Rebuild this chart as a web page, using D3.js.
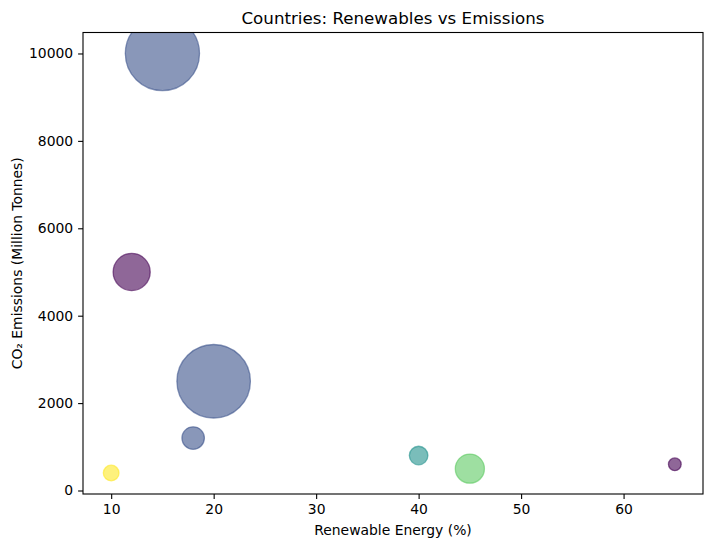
<!DOCTYPE html>
<html>
<head>
<meta charset="utf-8">
<script src="https://cdn.jsdelivr.net/npm/d3@7"></script>
<style>
  body{ margin:0; background:#fff; }
  svg text{ font-family:"DejaVu Sans", sans-serif; fill:#000; }
</style>
</head>
<body>
<svg id="chart" width="713" height="547"></svg>
<script>
// values
const countries = ['China','United States','India','Japan','Australia','Germany','Brazil','Canada']
const renewables = [15, 12, 20, 18, 10, 40, 45, 65]
const emissions = [10000, 5000, 2500, 1200, 400, 800, 500, 600]
const sizes = [2240, 560, 2200, 205, 100, 140, 345, 66]   // marker area, pt^2
const regionCode = [1, 0, 1, 1, 4, 2, 3, 0]
const xTicks = [10, 20, 30, 40, 50, 60]
const yTicks = [0, 2000, 4000, 6000, 8000, 10000]

const W = 713, H = 547
const m = { left: 83, right: 10, top: 32.5, bottom: 53 }
const svg = d3.select('#chart')

const pad = (ext, f=0.05) => { const d=(ext[1]-ext[0])*f; return [ext[0]-d, ext[1]+d] }
const x = d3.scaleLinear().domain(pad(d3.extent(renewables))).range([m.left, W - m.right])
const y = d3.scaleLinear().domain(pad(d3.extent(emissions))).range([H - m.bottom, m.top])
// matplotlib: radius(px) = sqrt(s/pi) * dpi/72
const r = d3.scaleSqrt().domain([0, 1]).range([0, Math.sqrt(1/Math.PI)*100/72])
const color = d3.scaleSequential(d3.interpolateViridis).domain([0, 4])

const data = countries.map((c,i) => ({ c, x: renewables[i], y: emissions[i], s: sizes[i], k: regionCode[i] }))

const gPts = svg.append('g').attr('clip-path', 'url(#clip)')
svg.append('clipPath').attr('id','clip').append('rect')
  .attr('x', m.left).attr('y', m.top).attr('width', W-m.left-m.right).attr('height', H-m.top-m.bottom)

gPts.selectAll('circle').data(data).enter().append('circle')
  .attr('cx', d => x(d.x)).attr('cy', d => y(d.y)).attr('r', d => r(d.s))
  .attr('fill', d => color(d.k)).attr('fill-opacity', 0.6)
  .attr('stroke', d => color(d.k)).attr('stroke-opacity', 0.6).attr('stroke-width', 1.3)

// axes
const xAxis = svg.append('g').attr('transform', `translate(0,${H - m.bottom})`)
  .call(d3.axisBottom(x).tickValues(xTicks).tickSize(4.9).tickPadding(4.9))
const yAxis = svg.append('g').attr('transform', `translate(${m.left},0)`)
  .call(d3.axisLeft(y).tickValues(yTicks).tickSize(4.9).tickPadding(4.9).tickFormat(d3.format('d')))
for(const g of [xAxis, yAxis]){
  g.select('.domain').remove()
  g.selectAll('.tick line').attr('stroke', '#000').attr('stroke-width', 1.1)
  g.selectAll('.tick text').attr('font-size', 13.9).attr('font-family', '"DejaVu Sans", sans-serif')
}
xAxis.selectAll('.tick text').attr('dy', '0.75em')

svg.append('rect')
  .attr('x', m.left).attr('y', m.top).attr('width', W-m.left-m.right).attr('height', H-m.top-m.bottom)
  .attr('fill', 'none').attr('stroke', '#000').attr('stroke-width', 1.1)

const cx = (m.left + W - m.right) / 2
svg.append('text').attr('x', cx).attr('y', 24).attr('text-anchor', 'middle')
  .attr('font-size', 16.7).text('Countries: Renewables vs Emissions')
svg.append('text').attr('x', cx).attr('y', 535).attr('text-anchor', 'middle')
  .attr('font-size', 13.9).text('Renewable Energy (%)')
svg.append('text').attr('transform', `translate(22,${(m.top + H - m.bottom)/2}) rotate(-90)`)
  .attr('text-anchor', 'middle').attr('font-size', 13.9).text('CO₂ Emissions (Million Tonnes)')
</script>
</body>
</html>
